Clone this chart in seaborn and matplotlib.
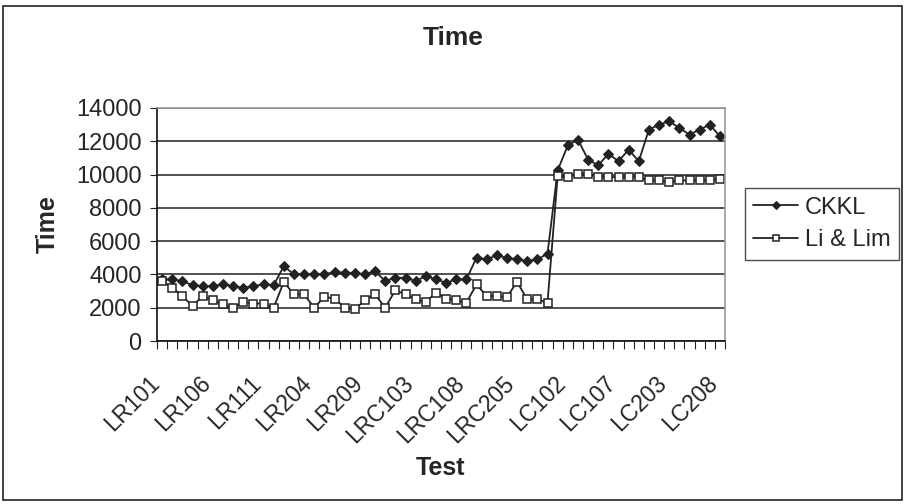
import numpy as np
import pandas as pd
import matplotlib
matplotlib.use('Agg')
import matplotlib.pyplot as plt
import matplotlib.transforms as mtransforms
import seaborn as sns
from matplotlib.patches import Rectangle

# --- Dati ---
tests = (['LR1%02d' % i for i in range(1, 13)] +
         ['LR2%02d' % i for i in range(1, 12)] +
         ['LRC1%02d' % i for i in range(1, 9)] +
         ['LRC2%02d' % i for i in range(1, 9)] +
         ['LC1%02d' % i for i in range(1, 10)] +
         ['LC2%02d' % i for i in range(1, 9)])

ckkl = [3700, 3700, 3600, 3350, 3300, 3300, 3400, 3300, 3200, 3300, 3400, 3350,
        4500, 4000, 4000, 4000, 4000, 4150, 4100, 4100, 4000, 4200, 3600,
        3800, 3800, 3600, 3900, 3700, 3500, 3700, 3700,
        5000, 4900, 5150, 5000, 4900, 4800, 4900, 5250,
        10250, 11750, 12100, 10900, 10550, 11250, 10800, 11500, 10800,
        12700, 13000, 13200, 12800, 12400, 12700, 13000, 12300]

li_lim = [3600, 3200, 2700, 2100, 2700, 2450, 2200, 2000, 2350, 2250, 2250, 2000,
          3550, 2800, 2800, 2000, 2650, 2550, 2000, 1900, 2450, 2800, 2000,
          3050, 2800, 2500, 2350, 2900, 2550, 2450, 2300,
          3400, 2700, 2700, 2650, 3550, 2500, 2500, 2300,
          9900, 9850, 10050, 10050, 9850, 9850, 9850, 9850, 9850,
          9650, 9650, 9550, 9650, 9650, 9650, 9650, 9750]

y_ticks = [0, 2000, 4000, 6000, 8000, 10000, 12000, 14000]

df = pd.DataFrame({'idx': np.arange(len(tests)), 'test': tests,
                   'CKKL': ckkl, 'Li & Lim': li_lim})

sns.set_style('white')
plt.rcParams['font.family'] = ['Liberation Sans', 'DejaVu Sans']

fig = plt.figure(figsize=(9.06, 5.04), dpi=100)
ax = fig.add_axes([157 / 906, 1 - 341 / 504, (725 - 157) / 906, (341 - 108) / 504])

sns.lineplot(data=df, x='idx', y='CKKL', ax=ax, color='#222222', lw=1.3,
             marker='D', markersize=5.5, markerfacecolor='#222222',
             markeredgecolor='#222222', label='CKKL')
sns.lineplot(data=df, x='idx', y='Li & Lim', ax=ax, color='#222222', lw=1.3,
             marker='s', markersize=5.5, markerfacecolor='white',
             markeredgecolor='#222222', markeredgewidth=1.1, label='Li & Lim')

ax.set_xlim(-0.5, len(tests) - 0.5)
ax.set_ylim(0, 14000)
ax.set_yticks(y_ticks)
ax.set_yticklabels([str(v) for v in y_ticks], fontsize=17)
ax.yaxis.grid(True, color='#333333', lw=1.2)
ax.set_axisbelow(True)

ax.set_xticks(np.arange(-0.5, len(tests), 1.0), minor=True)
ax.set_xticks(np.arange(0, len(tests), 5))
ax.set_xticklabels(tests[::5], rotation=45, ha='right', va='center',
                   rotation_mode='anchor', fontsize=16.5)
ax.tick_params(axis='x', which='major', length=0, pad=28)
ax.tick_params(axis='x', which='minor', length=6, width=0.8, color='#222222', direction='out', bottom=True)
ax.tick_params(axis='y', length=5, width=0.8, color='#222222', direction='out', left=True, pad=6)

# sposta le etichette un po' a sinistra come nell'originale
shift = mtransforms.ScaledTranslation(-6 / 100, 0, fig.dpi_scale_trans)
for lab in ax.get_xticklabels():
    lab.set_transform(lab.get_transform() + shift)

for side in ['left', 'bottom']:
    ax.spines[side].set_color('#111111')
    ax.spines[side].set_linewidth(1.2)
for side in ['top', 'right']:
    ax.spines[side].set_color('#999999')
    ax.spines[side].set_linewidth(1.2)

ax.set_xlabel('Test', fontsize=18, fontweight='bold', labelpad=6)
ax.set_ylabel('Time', fontsize=18, fontweight='bold', labelpad=12)
fig.text(0.5, 1 - 38 / 504, 'Time', fontsize=19, fontweight='bold', ha='center', va='center')

leg = ax.legend(loc='center left', bbox_to_anchor=(745 / 906, 1 - 224 / 504),
                bbox_transform=fig.transFigure, frameon=True, fancybox=False,
                fontsize=17, handlelength=1.9, borderpad=0.35, labelspacing=0.45,
                handletextpad=0.3, borderaxespad=0, markerscale=0.8)
leg.get_frame().set_edgecolor('#222222')
leg.get_frame().set_linewidth(1.0)

fig.patches.append(Rectangle((3 / 906, 4 / 504), 899 / 906, 494 / 504, transform=fig.transFigure,
                             fill=False, edgecolor='#222222', lw=1.2))

fig.savefig('out.png', dpi=100)
